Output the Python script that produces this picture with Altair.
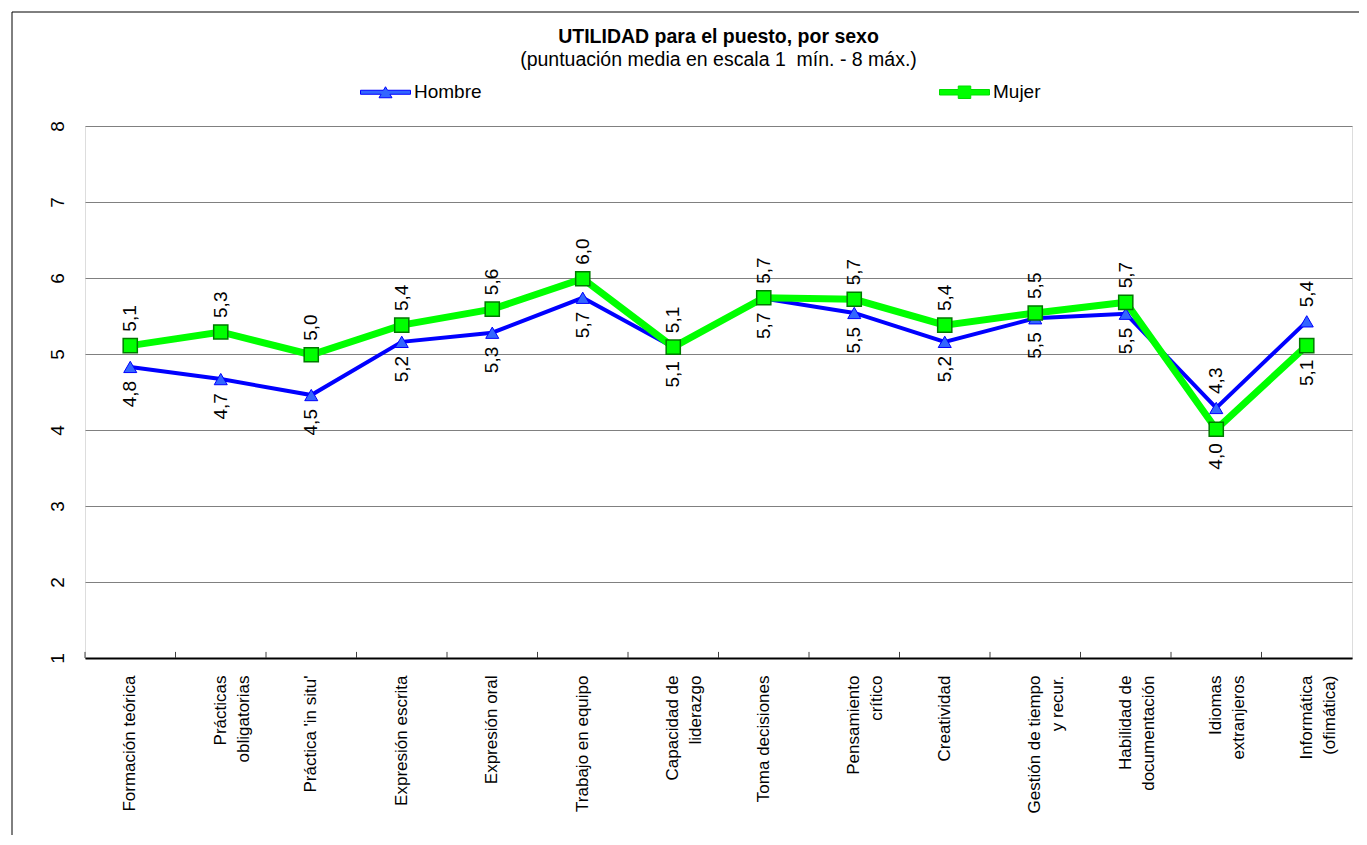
import altair as alt
import pandas as pd

FONT = "Liberation Sans, Arial, Helvetica, sans-serif"

# ---------------- data ----------------
categories = [
    "Formación teórica",
    "Prácticas\nobligatorias",
    "Práctica 'in situ'",
    "Expresión escrita",
    "Expresión oral",
    "Trabajo en equipo",
    "Capacidad de\nliderazgo",
    "Toma decisiones",
    "Pensamiento\ncrítico",
    "Creatividad",
    "Gestión de tiempo\ny recur.",
    "Habilidad de\ndocumentación",
    "Idiomas\nextranjeros",
    "Informática\n(ofimática)",
]
hombre = [4.83, 4.67, 4.46, 5.16, 5.28, 5.74, 5.09, 5.73, 5.54, 5.16, 5.47, 5.53, 4.29, 5.43]
mujer = [5.11, 5.29, 4.99, 5.38, 5.59, 5.99, 5.09, 5.74, 5.72, 5.38, 5.54, 5.68, 4.01, 5.11]
series_names = ["Hombre", "Mujer"]
y_ticks = [1, 2, 3, 4, 5, 6, 7, 8]
title_text = "UTILIDAD para el puesto, por sexo"
subtitle_text = "(puntuación media en escala 1\u00a0 mín. - 8 máx.)"

# approximate Arial advance widths (1/1000 em) used to centre the lines of two-line labels
ARIAL_W = {
    "a": 556, "b": 556, "c": 500, "d": 556, "e": 556, "f": 278, "g": 556, "h": 556,
    "i": 222, "j": 222, "k": 500, "l": 222, "m": 833, "n": 556, "o": 556, "p": 556,
    "q": 556, "r": 333, "s": 500, "t": 278, "u": 556, "v": 500, "w": 722, "x": 500,
    "y": 500, "z": 500, " ": 278, "'": 191, "(": 333, ")": 333, ".": 278,
    "á": 556, "é": 556, "í": 278, "ó": 556, "C": 722, "E": 667, "F": 611, "G": 778,
    "H": 722, "I": 278, "P": 667, "T": 611,
}


def text_width(s):
    return sum(ARIAL_W.get(ch, 556) for ch in s)


def center_lines(label):
    lines = label.split("\n")
    if len(lines) == 1:
        return label
    wmax = max(text_width(l) for l in lines)
    out = []
    for l in lines:
        n = int(round((wmax - text_width(l)) / 2 / 278))
        out.append(l + "\u00a0" * n)
    return "\n".join(out)


def fmt(v):
    return f"{v:.1f}".replace(".", ",")


cat_display = [center_lines(c) for c in categories]

rows = []
for i, cat in enumerate(cat_display):
    h, m = hombre[i], mujer[i]
    h_up = h > m
    rows.append(dict(cat=cat, series="Hombre", value=h, label=fmt(h), pos="above" if h_up else "below"))
    rows.append(dict(cat=cat, series="Mujer", value=m, label=fmt(m), pos="below" if h_up else "above"))
df = pd.DataFrame(rows)

# ---------------- encodings ----------------
x_axis = alt.Axis(
    title=None, labelAngle=270, labelAlign="right", labelBaseline="middle",
    labelFont=FONT, labelFontSize=17, labelColor="black", labelPadding=17,
    labelLimit=400, labelExpr="split(datum.label, '\\n')", labelLineHeight=23,
    ticks=False, tickSize=0, domainColor="black", domainWidth=2, grid=False,
    labelOverlap=False,
)


def xenc(**kw):
    return alt.X("cat:N", sort=cat_display,
                 scale=alt.Scale(paddingInner=0, paddingOuter=0), axis=x_axis, **kw)


y_axis = alt.Axis(
    title=None, values=y_ticks, format="d", labelAngle=270, labelAlign="center",
    labelBaseline="middle", labelPadding=28, labelFont=FONT, labelFontSize=19,
    labelColor="black", ticks=False, tickSize=0, domain=False, grid=True,
    gridColor="#808080", gridWidth=1,
)
yenc = alt.Y("value:Q", scale=alt.Scale(domain=[1, 8], nice=False, zero=False), axis=y_axis)

# ---------------- layers ----------------
frame = alt.Chart(pd.DataFrame({"k": [0]})).mark_rect(
    fill="transparent", stroke="black", strokeWidth=1
).encode(x=alt.value(-73), x2=alt.value(1300), y=alt.value(-114), y2=alt.value(900))

ticks = alt.Chart(df).transform_filter(alt.datum.series == "Hombre").mark_rule(
    color="#404040", strokeWidth=1
).encode(x=xenc(bandPosition=0), y=alt.datum(1), y2=alt.datum(1.08))

h_line = alt.Chart(df).transform_filter(alt.datum.series == "Hombre").mark_line(
    color="#0000FF", strokeWidth=4
).encode(x=xenc(), y=yenc)

m_line = alt.Chart(df).transform_filter(alt.datum.series == "Mujer").mark_line(
    color="#00FF00", strokeWidth=7
).encode(x=xenc(), y=yenc)

h_pts = alt.Chart(df).transform_filter(alt.datum.series == "Hombre").mark_point(
    shape="triangle-up", filled=True, fill="#3366FF", stroke="#0000FF",
    strokeWidth=1, size=170, opacity=1
).encode(x=xenc(), y=yenc)

m_pts = alt.Chart(df).transform_filter(alt.datum.series == "Mujer").mark_point(
    shape="square", filled=True, fill="#00FF00", stroke="#007A00",
    strokeWidth=1.5, size=200, opacity=1
).encode(x=xenc(), y=yenc)

lab_up = alt.Chart(df).transform_filter(alt.datum.pos == "above").mark_text(
    angle=270, align="left", baseline="middle", dx=14, font=FONT, fontSize=19, color="black"
).encode(x=xenc(), y=yenc, text="label:N")

lab_dn = alt.Chart(df).transform_filter(alt.datum.pos == "below").mark_text(
    angle=270, align="right", baseline="middle", dx=-14, font=FONT, fontSize=19, color="black"
).encode(x=xenc(), y=yenc, text="label:N")

path_h = ("M-1,-0.08L-0.083,-0.08L0,-0.22L0.083,-0.08L1,-0.08L1,0.08L0.177,0.08"
          "L0.26,0.22L-0.26,0.22L-0.177,0.08L-1,0.08Z")
path_m = ("M-1,-0.11L-0.25,-0.11L-0.25,-0.25L0.25,-0.25L0.25,-0.11L1,-0.11L1,0.11"
          "L0.25,0.11L0.25,0.25L-0.25,0.25L-0.25,0.11L-1,0.11Z")

leg = alt.Legend(
    title=None, orient="none", legendX=275, legendY=-59.5, direction="horizontal",
    columns=2, columnPadding=455, symbolSize=2500, symbolStrokeWidth=1,
    labelFont=FONT, labelFontSize=19, labelColor="black", labelOffset=3, symbolOpacity=1,
)
legend_layer = alt.Chart(df).transform_filter("false").mark_point(filled=True, opacity=1).encode(
    fill=alt.Fill("series:N", scale=alt.Scale(domain=series_names, range=["#3366FF", "#00FF00"]), legend=leg),
    stroke=alt.Stroke("series:N", scale=alt.Scale(domain=series_names, range=["#0000FF", "#00DD00"]), legend=leg),
    shape=alt.Shape("series:N", scale=alt.Scale(domain=series_names, range=[path_h, path_m]), legend=leg),
)

chart = alt.layer(
    frame, ticks, h_line, m_line, h_pts, m_pts, lab_up, lab_dn, legend_layer
).properties(
    width=1267,
    height=532,
    title=alt.TitleParams(
        text=title_text, subtitle=subtitle_text, font=FONT, fontSize=19.5, fontWeight="bold",
        color="black", subtitleFont=FONT, subtitleFontSize=19.5, subtitleColor="black",
        subtitlePadding=4, anchor="middle", frame="group", offset=-59,
    ),
    autosize=alt.AutoSizeParams(type="none"),
    padding={"left": 77, "top": 118, "right": 7, "bottom": 177},
).configure_view(stroke="#404040", strokeWidth=1).configure(background="white")

chart.save("out.html", embed_options={"renderer": "svg", "actions": False})
